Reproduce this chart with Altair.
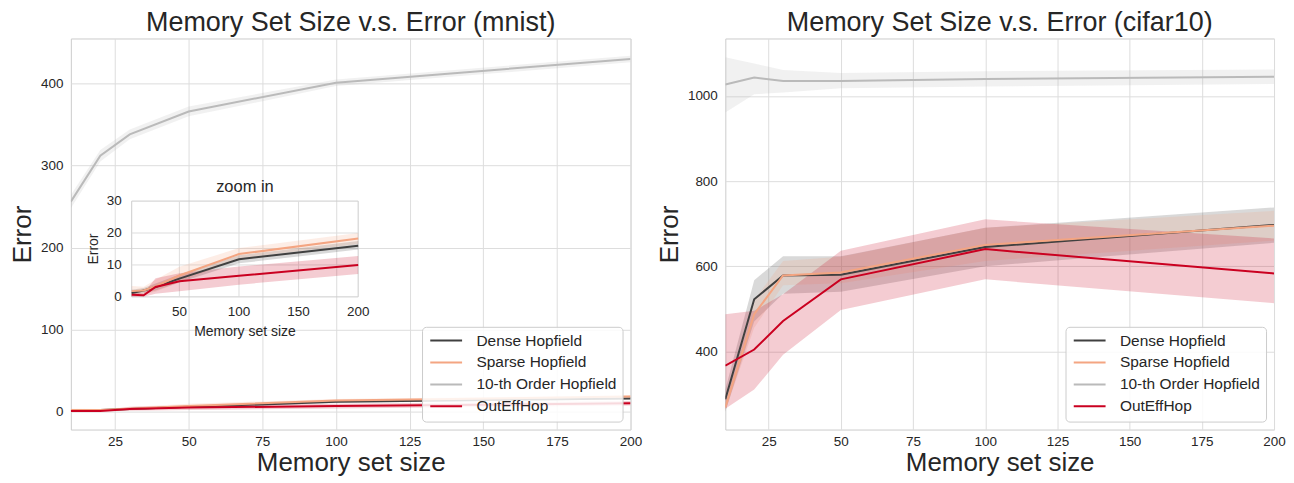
import altair as alt
import pandas as pd

# ---------------- data ----------------
X = [10, 20, 30, 50, 100, 200]
SERIES = ["Dense Hopfield", "Sparse Hopfield", "10-th Order Hopfield", "OutEffHop"]
COLORS = ["#404040", "#f4a582", "#bababa", "#ca0020"]
XTICKS = [25, 50, 75, 100, 125, 150, 175, 200]

# mnist (mean, lower, upper)
mnist_dense = [1.2, 2.0, 3.1, 5.7, 11.8, 16.0]
mnist_dense_lo = [0.5, 1.2, 2.0, 4.5, 10.5, 14.8]
mnist_dense_hi = [2.2, 2.8, 4.2, 7.0, 13.0, 17.5]
mnist_sparse = [1.8, 2.0, 3.3, 6.7, 13.4, 18.3]
mnist_sparse_lo = [0.6, 0.9, 1.6, 4.6, 12.0, 16.6]
mnist_sparse_hi = [3.4, 3.2, 5.4, 9.4, 15.3, 20.0]
mnist_order10 = [256, 312, 338, 366, 401, 430]
mnist_order10_lo = [248, 305, 332, 360, 397, 426]
mnist_order10_hi = [264, 319, 344, 372, 405, 434]
mnist_out = [0.7, 0.5, 3.1, 4.9, 6.6, 10.0]
mnist_out_lo = [0.0, 0.0, 1.0, 1.8, 3.8, 7.2]
mnist_out_hi = [1.5, 1.2, 5.8, 7.4, 9.5, 12.8]
MNIST_YTICKS = [0, 100, 200, 300, 400]

# cifar10 (mean, lower, upper)
cifar_dense = [287, 522, 578, 580, 645, 697]
cifar_dense_lo = [258, 470, 535, 540, 600, 655]
cifar_dense_hi = [310, 567, 623, 623, 690, 738]
cifar_sparse = [268, 487, 578, 585, 650, 695]
cifar_sparse_lo = [260, 455, 555, 560, 612, 660]
cifar_sparse_hi = [290, 520, 612, 622, 690, 730]
cifar_order10 = [1027, 1043, 1035, 1035, 1040, 1045]
cifar_order10_lo = [961, 1004, 1008, 1018, 1022, 1028]
cifar_order10_hi = [1091, 1076, 1061, 1054, 1058, 1062]
cifar_out = [366, 404, 471, 569, 640, 583]
cifar_out_lo = [265, 310, 392, 497, 569, 513]
cifar_out_hi = [487, 495, 534, 636, 710, 665]
CIFAR_YTICKS = [400, 600, 800, 1000]

INSET_XTICKS = [50, 100, 150, 200]
INSET_YTICKS = [0, 10, 20, 30]

FONT = "Liberation Sans"
TXT = "#262626"
GRID = "#dddddd"
BORDER = "#cccccc"
BANDS = [s + " band" for s in SERIES]


def table(d):
    rows = []
    for s in SERIES:
        if s not in d:
            continue
        m, lo, hi = d[s]
        for x, a, b, c in zip(X, m, lo, hi):
            rows.append(dict(x=x, series=s, band=s + " band", mean=a, lo=b, hi=c))
    return pd.DataFrame(rows)


mnist_df = table({
    "Dense Hopfield": (mnist_dense, mnist_dense_lo, mnist_dense_hi),
    "Sparse Hopfield": (mnist_sparse, mnist_sparse_lo, mnist_sparse_hi),
    "10-th Order Hopfield": (mnist_order10, mnist_order10_lo, mnist_order10_hi),
    "OutEffHop": (mnist_out, mnist_out_lo, mnist_out_hi),
})
inset_df = table({
    "Dense Hopfield": (mnist_dense, mnist_dense_lo, mnist_dense_hi),
    "Sparse Hopfield": (mnist_sparse, mnist_sparse_lo, mnist_sparse_hi),
    "OutEffHop": (mnist_out, mnist_out_lo, mnist_out_hi),
})
cifar_df = table({
    "Dense Hopfield": (cifar_dense, cifar_dense_lo, cifar_dense_hi),
    "Sparse Hopfield": (cifar_sparse, cifar_sparse_lo, cifar_sparse_hi),
    "10-th Order Hopfield": (cifar_order10, cifar_order10_lo, cifar_order10_hi),
    "OutEffHop": (cifar_out, cifar_out_lo, cifar_out_hi),
})


def color_enc():
    return alt.Color(
        "series:N",
        scale=alt.Scale(domain=SERIES, range=COLORS),
        legend=alt.Legend(
            title=None, orient="bottom-right", offset=8,
            fillColor="rgba(255,255,255,0.85)", strokeColor=BORDER,
            cornerRadius=4, padding=6, labelFontSize=15.5, labelFont=FONT,
            labelColor=TXT, symbolType="M-1,0H4.8", symbolSize=121,
            symbolStrokeWidth=2, rowPadding=5, labelOffset=33,
        ),
    )


def fill_enc():
    return alt.Fill(
        "band:N",
        scale=alt.Scale(domain=BANDS, range=COLORS),
        legend=None,
    )


def main_panel(df, ydom, yticks):
    xs = alt.Scale(domain=[10, 200], nice=False, zero=False)
    ys = alt.Scale(domain=ydom, nice=False, zero=False)
    xax = alt.Axis(values=XTICKS, title="Memory set size", labelFlush=False,
                   labelOverlap=False)
    yax = alt.Axis(values=yticks, title="Error", format="d")
    base = alt.Chart(df)
    band = base.mark_area(fillOpacity=0.2, clip=True).encode(
        x=alt.X("x:Q", scale=xs, axis=xax),
        y=alt.Y("lo:Q", scale=ys, axis=yax),
        y2="hi:Q",
        fill=fill_enc(),
    )
    line = base.mark_line(strokeWidth=2, clip=True).encode(
        x=alt.X("x:Q", scale=xs, axis=xax),
        y=alt.Y("mean:Q", scale=ys, axis=yax),
        color=color_enc(),
    )
    return alt.layer(band, line)


W_L, W_R, H = 561, 550, 392

# ---------- inset (zoom in) ----------
ixs = alt.Scale(domain=[10, 200], range=[61, 288], nice=False, zero=False)
iys = alt.Scale(domain=[0, 30], range=[259, 163], nice=False, zero=False)
ib = alt.Chart(inset_df)
inset_band = ib.mark_area(fillOpacity=0.2).encode(
    x=alt.X("x:Q", scale=ixs, axis=None),
    y=alt.Y("lo:Q", scale=iys, axis=None),
    y2="hi:Q",
    fill=fill_enc(),
)
inset_line = ib.mark_line(strokeWidth=2).encode(
    x=alt.X("x:Q", scale=ixs, axis=None),
    y=alt.Y("mean:Q", scale=iys, axis=None),
    color=color_enc(),
)
vgrid = alt.Chart(pd.DataFrame({"t": INSET_XTICKS[:-1]})).mark_rule(
    color=GRID, strokeWidth=1).encode(
    x=alt.X("t:Q", scale=ixs, axis=None),
    y=alt.YDatum(0, scale=iys, axis=None),
    y2=alt.Y2Datum(30),
)
hgrid = alt.Chart(pd.DataFrame({"t": INSET_YTICKS[1:-1]})).mark_rule(
    color=GRID, strokeWidth=1).encode(
    y=alt.Y("t:Q", scale=iys, axis=None),
    x=alt.XDatum(10, scale=ixs, axis=None),
    x2=alt.X2Datum(200),
)
frame = alt.Chart(pd.DataFrame({"a": [10], "b": [200], "c": [0], "d": [30]})).mark_rect(
    fillOpacity=0, stroke=BORDER, strokeWidth=1).encode(
    x=alt.X("a:Q", scale=ixs, axis=None), x2="b:Q",
    y=alt.Y("c:Q", scale=iys, axis=None), y2="d:Q",
)
xlab = alt.Chart(pd.DataFrame({"t": INSET_XTICKS})).mark_text(
    dy=15, fontSize=13.5, font=FONT, color=TXT, baseline="middle").encode(
    x=alt.X("t:Q", scale=ixs, axis=None),
    y=alt.YDatum(0, scale=iys, axis=None),
    text=alt.Text("t:Q"),
)
ylab = alt.Chart(pd.DataFrame({"t": INSET_YTICKS})).mark_text(
    dx=-10, fontSize=13.5, font=FONT, color=TXT, align="right", baseline="middle").encode(
    y=alt.Y("t:Q", scale=iys, axis=None),
    x=alt.XDatum(10, scale=ixs, axis=None),
    text=alt.Text("t:Q"),
)
ititle = alt.Chart(pd.DataFrame({"s": ["zoom in"]})).mark_text(
    dy=-14, fontSize=16.5, font=FONT, color=TXT, baseline="middle").encode(
    x=alt.XDatum(105, scale=ixs, axis=None),
    y=alt.YDatum(30, scale=iys, axis=None),
    text="s:N",
)
ixt = alt.Chart(pd.DataFrame({"s": ["Memory set size"]})).mark_text(
    dy=35, fontSize=14, font=FONT, color=TXT, baseline="middle").encode(
    x=alt.XDatum(105, scale=ixs, axis=None),
    y=alt.YDatum(0, scale=iys, axis=None),
    text="s:N",
)
iyt = alt.Chart(pd.DataFrame({"s": ["Error"]})).mark_text(
    dy=-38, angle=270, fontSize=14, font=FONT, color=TXT, baseline="middle").encode(
    x=alt.XDatum(10, scale=ixs, axis=None),
    y=alt.YDatum(15, scale=iys, axis=None),
    text="s:N",
)
inset = alt.layer(frame, vgrid, hgrid, inset_band, inset_line, xlab, ylab, ititle, ixt, iyt)

left = alt.layer(
    main_panel(mnist_df, [-22, 455], MNIST_YTICKS),
    inset,
).resolve_scale(x="independent", y="independent").properties(
    width=W_L, height=H,
    title=alt.TitleParams("Memory Set Size v.s. Error (mnist)"),
)

right = main_panel(cifar_df, [216, 1135], CIFAR_YTICKS).properties(
    width=W_R, height=H,
    title=alt.TitleParams("Memory Set Size v.s. Error (cifar10)"),
)

chart = alt.hconcat(left, right, spacing=13).resolve_scale(
    color="independent", fill="independent"
).properties(
    padding={"left": 0, "top": 0, "right": 0, "bottom": 0}
).configure_view(
    stroke=BORDER, strokeWidth=1
).configure_axis(
    labelFont=FONT, titleFont=FONT, labelColor=TXT, titleColor=TXT,
    labelFontSize=13.5, titleFontSize=26, titleFontWeight="normal",
    grid=True, gridColor=GRID, gridWidth=1, domain=False, ticks=False,
).configure_axisX(labelPadding=5, titlePadding=2).configure_axisY(
    labelPadding=8, titlePadding=5
).configure_title(
    font=FONT, fontSize=27, fontWeight="normal", color=TXT, offset=1,
)

chart.save("out.html", embed_options={"renderer": "svg", "actions": False})
